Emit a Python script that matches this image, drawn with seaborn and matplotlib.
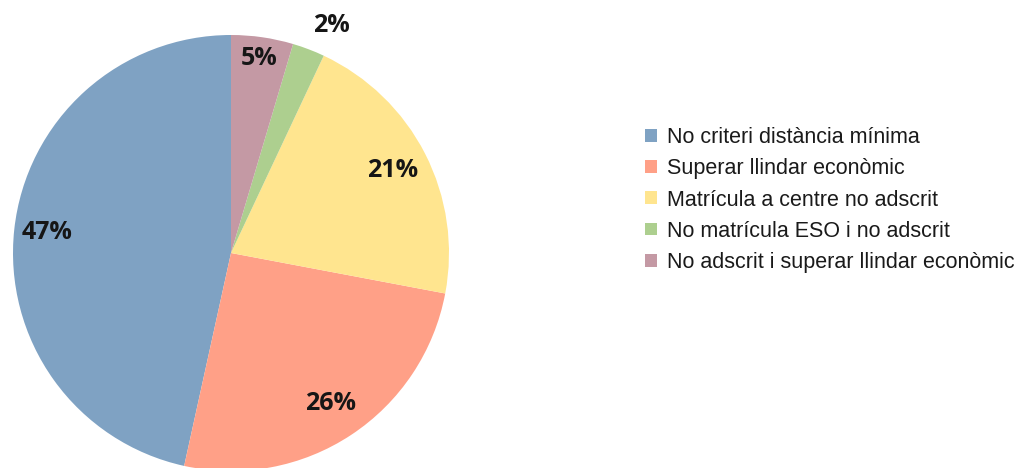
import numpy as np
import matplotlib
matplotlib.use("Agg")
import matplotlib.pyplot as plt
from matplotlib.patches import Patch
import seaborn as sns

categories = ["No criteri distància mínima", "Superar llindar econòmic",
              "Matrícula a centre no adscrit", "No matrícula ESO i no adscrit",
              "No adscrit i superar llindar econòmic"]
values = [46.6, 25.5, 21.0, 2.4, 4.6]
labels = ["47%", "26%", "21%", "2%", "5%"]
colors = ["#7FA2C3", "#FFA087", "#FFE58F", "#ADCF8F", "#C499A4"]
label_r = [0.85, 0.83, 0.83, 1.14, 0.90]
label_dang = [0, 0, 0, -3, 0]

sns.set_theme(style="white")
plt.rcParams['font.family'] = ['Liberation Sans', 'DejaVu Sans']

W, H = 1019, 468
fig = plt.figure(figsize=(W / 100, H / 100), dpi=100)
cx, cy, R = 231, 253, 218
ax = fig.add_axes([(cx - R) / W, (H - cy - R) / H, 2 * R / W, 2 * R / H])
wedges, _ = ax.pie(values, colors=colors, startangle=90, counterclock=True,
                   radius=1, wedgeprops=dict(linewidth=0))
ax.set_xlim(-1, 1)
ax.set_ylim(-1, 1)
ax.set_aspect("equal")
ax.axis("off")

for w, lab, rr, da in zip(wedges, labels, label_r, label_dang):
    ang = np.deg2rad((w.theta1 + w.theta2) / 2 + da)
    ax.text(rr * np.cos(ang), rr * np.sin(ang), lab, ha="center", va="center",
            fontsize=18, fontweight="bold", family=["Open Sans", "DejaVu Sans"],
            color="#161616", clip_on=False)

handles = [Patch(facecolor=c, edgecolor="none") for c in colors]
fig.legend(handles, categories, loc="center left", bbox_to_anchor=(645 / W, 1 - 200 / H),
           frameon=False, fontsize=15.5, handlelength=0.55, handleheight=0.55,
           handletextpad=0.45, labelspacing=0.47, borderpad=0, borderaxespad=0,
           labelcolor="#1a1a1a")

fig.savefig("out.png", dpi=100, facecolor="white")
